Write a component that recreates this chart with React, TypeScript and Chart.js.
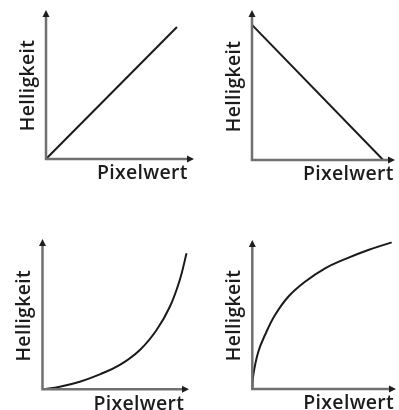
import React, { useEffect, useRef } from "react";
import { Chart, registerables } from "chart.js";

Chart.register(...registerables);

// ---- data ----
const X_LABEL = "Pixelwert";
const Y_LABEL = "Helligkeit";

// 1: linear
const linearX = [0, 100];
const linearY = [0, 100];
// 2: inverted
const invertedX = [0, 100];
const invertedY = [100, 0];
// 3: exponential-like
const expX = [0, 12.0, 25.9, 39.8, 53.7, 67.6, 79.2, 88.4, 95.3, 100];
const expY = [0, 1.9, 5.6, 11.0, 17.9, 28.9, 43.6, 60.7, 80.4, 100];
// 4: logarithmic-like
const logX = [0, 0.7, 4.3, 9.1, 16.3, 25.8, 37.8, 52.2, 66.5, 83.2, 100];
const logY = [0, 9.5, 25.4, 36.8, 50.4, 62.9, 73.1, 82.3, 88.6, 94.8, 100];

const FONT = '600 19.5px "Open Sans", sans-serif';
const AXIS_COLOR = "#707070";
const ARROW_COLOR = "#1e1e1e";
const CURVE_COLOR = "#1a1a1a";

type Panel = {
  xs: number[];
  ys: number[];
  left: number;
  top: number;
  w: number;
  h: number;
  pad: { left: number; top: number; right: number; bottom: number };
  xMax: number;
  yMax: number;
  smooth: boolean;
};

const panels: Panel[] = [
  { xs: linearX, ys: linearY, left: 0, top: 0, w: 200, h: 205,
    pad: { left: 46, top: 10, right: 6, bottom: 46 }, xMax: 113, yMax: 112.9, smooth: false },
  { xs: invertedX, ys: invertedY, left: 200, top: 0, w: 199, h: 205,
    pad: { left: 52, top: 10, right: 4, bottom: 45 }, xMax: 109, yMax: 111, smooth: false },
  { xs: expX, ys: expY, left: 0, top: 205, w: 200, h: 205,
    pad: { left: 42.5, top: 34, right: 11, bottom: 20.7 }, xMax: 101.7, yMax: 110.5, smooth: true },
  { xs: logX, ys: logY, left: 200, top: 205, w: 199, h: 205,
    pad: { left: 52.3, top: 35, right: 3, bottom: 21 }, xMax: 103.1, yMax: 101.6, smooth: true },
];

const axesPlugin = {
  id: "arrowAxes",
  afterDatasetsDraw(chart: any) {
    const { ctx, scales } = chart;
    const ox = scales.x.getPixelForValue(0);
    const oy = scales.y.getPixelForValue(0);
    const tipX = scales.x.getPixelForValue(scales.x.max);
    const tipY = scales.y.getPixelForValue(scales.y.max);
    const aLen = 7;
    const aHalf = 3.5;
    ctx.save();
    ctx.strokeStyle = AXIS_COLOR;
    ctx.lineWidth = 2.5;
    ctx.lineCap = "butt";
    ctx.beginPath();
    ctx.moveTo(ox, oy + 1.2);
    ctx.lineTo(ox, tipY + aLen - 1);
    ctx.moveTo(ox - 1.2, oy);
    ctx.lineTo(tipX - aLen + 1, oy);
    ctx.stroke();
    ctx.fillStyle = ARROW_COLOR;
    ctx.beginPath();
    ctx.moveTo(ox, tipY);
    ctx.lineTo(ox - aHalf, tipY + aLen);
    ctx.lineTo(ox + aHalf, tipY + aLen);
    ctx.closePath();
    ctx.fill();
    ctx.beginPath();
    ctx.moveTo(tipX, oy);
    ctx.lineTo(tipX - aLen, oy - aHalf);
    ctx.lineTo(tipX - aLen, oy + aHalf);
    ctx.closePath();
    ctx.fill();

    ctx.fillStyle = "#1c1c1c";
    ctx.font = FONT;
    try { (ctx as any).letterSpacing = "0.3px"; } catch (e) { /* ignore */ }
    ctx.textAlign = "left";
    ctx.textBaseline = "alphabetic";
    ctx.fillText(X_LABEL, ox + 51, oy + 20.3);

    ctx.translate(ox - 12.5, oy - 73.5);
    ctx.rotate(-Math.PI / 2);
    ctx.textAlign = "center";
    ctx.fillText(Y_LABEL, 0, 0);
    ctx.restore();
  },
};

function PanelChart({ p }: { p: Panel }) {
  const ref = useRef<HTMLCanvasElement | null>(null);
  useEffect(() => {
    if (!ref.current) return;
    const data = p.xs.map((x, i) => ({ x, y: p.ys[i] }));
    const chart = new Chart(ref.current, {
      type: "line",
      data: {
        datasets: [
          {
            data,
            borderColor: CURVE_COLOR,
            borderWidth: 2,
            pointRadius: 0,
            fill: false,
            tension: p.smooth ? 0.4 : 0,
          },
        ],
      },
      options: {
        animation: false,
        responsive: false,
        maintainAspectRatio: false,
        devicePixelRatio: 1,
        layout: { padding: p.pad },
        plugins: { legend: { display: false }, tooltip: { enabled: false } },
        events: [],
        scales: {
          x: { type: "linear", min: 0, max: p.xMax, display: false },
          y: { type: "linear", min: 0, max: p.yMax, display: false },
        },
      },
      plugins: [axesPlugin],
    } as any);
    return () => chart.destroy();
  }, [p]);
  return (
    <canvas
      ref={ref}
      width={p.w}
      height={p.h}
      style={{ position: "absolute", left: p.left, top: p.top, width: p.w, height: p.h }}
    />
  );
}

export default function App() {
  return (
    <div
      style={{
        position: "fixed",
        left: 0,
        top: 0,
        width: 399,
        height: 410,
        background: "#ffffff",
        overflow: "hidden",
      }}
    >
      {panels.map((p, i) => (
        <PanelChart key={i} p={p} />
      ))}
    </div>
  );
}
